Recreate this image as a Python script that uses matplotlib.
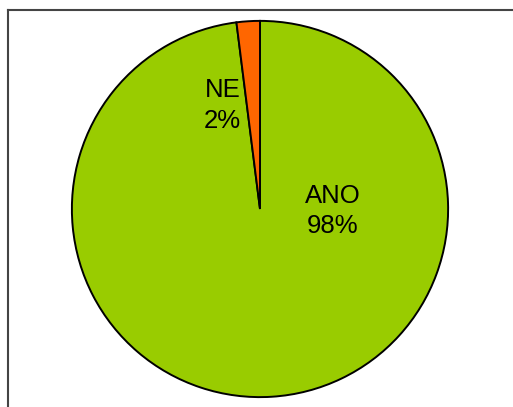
import matplotlib
matplotlib.use("Agg")
import matplotlib.pyplot as plt
from matplotlib.lines import Line2D

categories = ["ANO", "NE"]
values = [98, 2]
colors = ["#99CC00", "#FF6600"]

plt.rcParams['font.family'] = ['Liberation Sans', 'DejaVu Sans']

W, H = 513, 407
fig = plt.figure(figsize=(W / 100, H / 100), dpi=100)
fig.patch.set_facecolor("white")

R = 190
cx, cy = 260, 209
ax = fig.add_axes([(cx - R) / W, (H - cy - R) / H, 2 * R / W, 2 * R / H])
wedges, _ = ax.pie(values, colors=colors, startangle=90, counterclock=False,
                   radius=1.0, wedgeprops=dict(edgecolor="black", linewidth=1.4))
ax.set_xlim(-1.01, 1.01)
ax.set_ylim(-1.01, 1.01)
ax.set_aspect("equal")
ax.axis("off")

label_pos = {"ANO": (0.385, -0.01), "NE": (-0.2, 0.55)}
for cat, v in zip(categories, values):
    x, y = label_pos[cat]
    ax.text(x, y, f"{cat}\n{v}%", ha="center", va="center", fontsize=18.5,
            linespacing=1.32, color="black")

# frame border (top and left visible)
fig.add_artist(Line2D([7.5 / W, 1.0], [1 - 10 / H, 1 - 10 / H], transform=fig.transFigure,
                      color="#444444", linewidth=1.5))
fig.add_artist(Line2D([7.5 / W, 7.5 / W], [0.0, 1 - 10 / H], transform=fig.transFigure,
                      color="#444444", linewidth=1.5))

fig.savefig("out.png", dpi=100, facecolor="white")
